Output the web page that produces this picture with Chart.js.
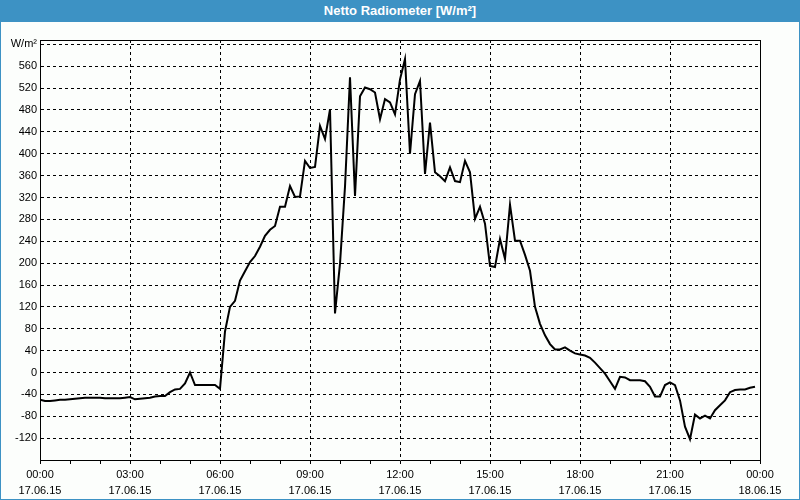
<!DOCTYPE html>
<html>
<head>
<meta charset="utf-8">
<script src="https://cdn.jsdelivr.net/npm/chart.js@4"></script>
<style>
html,body{margin:0;padding:0;background:#fff;}
#frame{position:absolute;left:0;top:0;width:800px;height:500px;box-sizing:border-box;border:1px solid #3d92c4;border-top:none;background:#fcfefc;}
#title{position:absolute;left:-1px;top:0;width:800px;height:22px;background:#3d92c4;color:#fff;font:bold 13px "Liberation Sans",Arial,sans-serif;text-align:center;line-height:22px;}
#wrap{position:absolute;left:0;top:22px;width:798px;height:477px;}
</style>
</head>
<body>
<div id="frame">
  <div id="title">Netto Radiometer [W/m²]</div>
  <div id="wrap"><canvas id="c"></canvas></div>
</div>
<script>
// Measurement times (17.06.15, 10-minute samples)
const times = [
 "00:00","00:10","00:20","00:30","00:40","00:50","01:00","01:10","01:20","01:30","01:40","01:50",
 "02:00","02:10","02:20","02:30","02:40","02:50","03:00","03:10","03:20","03:30","03:40","03:50",
 "04:00","04:10","04:20","04:30","04:40","04:50","05:00","05:10","05:20","05:30","05:40","05:50",
 "06:00","06:10","06:20","06:30","06:40","06:50","07:00","07:10","07:20","07:30","07:40","07:50",
 "08:00","08:10","08:20","08:30","08:40","08:50","09:00","09:10","09:20","09:30","09:40","09:50",
 "10:00","10:10","10:20","10:30","10:40","10:50","11:00","11:10","11:20","11:30","11:40","11:50",
 "12:00","12:10","12:20","12:30","12:40","12:50","13:00","13:10","13:20","13:30","13:40","13:50",
 "14:00","14:10","14:20","14:30","14:40","14:50","15:00","15:10","15:20","15:30","15:40","15:50",
 "16:00","16:10","16:20","16:30","16:40","16:50","17:00","17:10","17:20","17:30","17:40","17:50",
 "18:00","18:10","18:20","18:30","18:40","18:50","19:00","19:10","19:20","19:30","19:40","19:50",
 "20:00","20:10","20:20","20:30","20:40","20:50","21:00","21:10","21:20","21:30","21:40","21:50",
 "22:00","22:10","22:20","22:30","22:40","22:50","23:00","23:10","23:20","23:30","23:40","23:50"
];
// Net radiation [W/m²]
const netRadiation = [
 -50,-52,-52,-51,-50,-50,-49,-48,-47,-46,-46,-46,
 -46,-47,-47,-47,-47,-46,-45,-49,-48,-47,-46,-44,
 -43,-43,-36,-31,-30,-20,0,-23,-23,-23,-23,-23,
 -30,75,120,131,168,185,202,213,230,250,261,268,
 303,303,341,321,322,387,374,376,451,427,481,108,
 199,340,540,323,505,521,518,512,463,500,494,472,
 536,573,400,509,533,363,457,366,359,350,375,350,
 348,387,366,281,303,272,195,193,244,208,307,241,
 241,215,186,120,89,68,52,42,42,46,40,35,
 33,31,27,18,8,-2,-16,-30,-8,-9,-14,-14,
 -14,-16,-26,-44,-44,-23,-18,-23,-51,-99,-122,-77,
 -84,-79,-84,-69,-60,-51,-36,-32,-31,-31,-28,-26
];
// X axis tick labels (every 3 hours)
const xTickHours = [0,3,6,9,12,15,18,21,24];
const xTickTimes = ["00:00","03:00","06:00","09:00","12:00","15:00","18:00","21:00","00:00"];
const xTickDates = ["17.06.15","17.06.15","17.06.15","17.06.15","17.06.15","17.06.15","17.06.15","17.06.15","18.06.15"];
// Y axis
const yMin = -160, yMax = 608, yStep = 40, yUnit = "W/m²", yUnitAt = 600;

function toHours(t){ const p = t.split(":"); return +p[0] + (+p[1])/60; }
const points = times.map((t,i)=>({x: toHours(t), y: netRadiation[i]}));

const frameBox = {
  id:'frameBox',
  afterDraw(chart){
    const {ctx, chartArea:a} = chart;
    ctx.save();
    ctx.strokeStyle = '#000'; ctx.lineWidth = 1; ctx.setLineDash([]);
    ctx.beginPath();
    ctx.moveTo(a.left, a.top + 0.5);
    ctx.lineTo(a.right + 0.5, a.top + 0.5);
    ctx.lineTo(a.right + 0.5, a.bottom);
    ctx.stroke();
    ctx.restore();
  }
};

const FONT = {family:'"Liberation Sans", Arial, sans-serif', size:11, lineHeight:1.45};

new Chart(document.getElementById('c'), {
  type:'line',
  data:{ datasets:[{
    data: points, borderColor:'#000', borderWidth:2, pointRadius:0, tension:0, fill:false
  }]},
  options:{
    responsive:true, maintainAspectRatio:false, animation:false,
    layout:{padding:{left:0,right:39,top:18,bottom:0}},
    plugins:{legend:{display:false}, title:{display:false}, tooltip:{enabled:false}},
    scales:{
      x:{
        type:'linear', min:0, max:24,
        afterFit(s){ s.height = 39; },
        ticks:{
          stepSize:1, autoSkip:false, maxRotation:0, minRotation:0, padding:3, color:'#000', font:FONT,
          callback(v){ const i = xTickHours.indexOf(v); return i >= 0 ? [xTickTimes[i], xTickDates[i]] : ''; }
        },
        grid:{
          color(ctx){ return (ctx.tick && ctx.tick.value % 3 === 0) ? '#000' : 'rgba(0,0,0,0)'; },
          tickColor:'#000', tickLength:4, tickBorderDash:[], lineWidth:1
        },
        border:{display:true, color:'#000', width:1, dash:[3,3]}
      },
      y:{
        min:yMin, max:yMax,
        afterFit(s){ s.width = 39; },
        ticks:{
          stepSize:yStep, includeBounds:false, padding:3, color:'#000', font:FONT,
          callback(v){ if (v === yUnitAt) return yUnit; if (v === yMin) return ''; return String(v); }
        },
        grid:{color:'#000', drawTicks:false, lineWidth:1},
        border:{display:true, color:'#000', width:1, dash:[3,3]}
      }
    }
  },
  plugins:[frameBox]
});
</script>
</body>
</html>
